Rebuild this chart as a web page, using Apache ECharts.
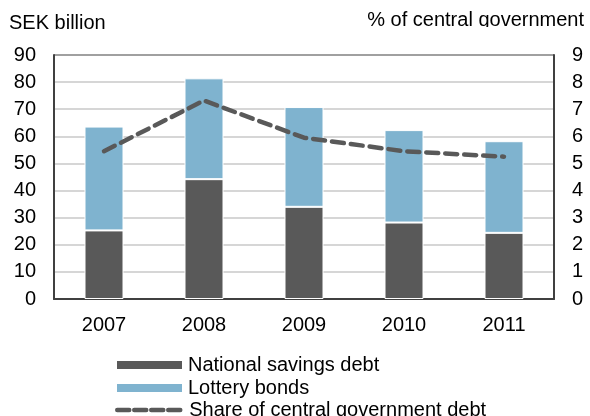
<!DOCTYPE html>
<html>
<head>
<meta charset="utf-8">
<script src="https://cdn.jsdelivr.net/npm/echarts@6/dist/echarts.min.js"></script>
<style>
  html, body { margin: 0; padding: 0; background: #fff; }
  #chart { width: 590px; height: 416px; }
</style>
</head>
<body>
<div id="chart"></div>
<script>
// Years on the category axis
const years = ['2007', '2008', '2009', '2010', '2011'];
// SEK billion, stacked
const nationalSavingsDebt = [25.3, 44.2, 34.0, 28.2, 24.4];
const lotteryBonds = [38.3, 37.2, 36.8, 34.1, 33.8];
// % of central government debt (right axis)
const shareOfDebt = [5.45, 7.32, 5.95, 5.45, 5.25];

const FONT = '"Liberation Sans", Arial, sans-serif';
const DARK = '#595959';
const BLUE = '#7fb3cf';
const FS = 20;

// light grid lines, with a darker line closing the top of the plot
const gridColors = ['#c8c8c8', '#c8c8c8', '#c8c8c8', '#c8c8c8', '#c8c8c8',
                    '#c8c8c8', '#c8c8c8', '#c8c8c8', '#c8c8c8', '#808080'];

function legendRow(name, top, extra) {
  return Object.assign({
    orient: 'vertical',
    left: 115,
    top: top,
    padding: 0,
    itemWidth: 67,
    itemHeight: 10,
    selectedMode: false,
    textStyle: { fontFamily: FONT, fontSize: FS, color: '#000' },
    data: [{ name: name, icon: 'rect' }]
  }, extra || {});
}

const chart = echarts.init(document.getElementById('chart'), null, { renderer: 'canvas' });

chart.setOption({
  animation: false,
  backgroundColor: '#ffffff',
  textStyle: { fontFamily: FONT },
  grid: { left: 54, right: 36, top: 55, bottom: 117, containLabel: false },
  legend: [
    legendRow('National savings debt', 355),
    legendRow('Lottery bonds', 378),
    legendRow('Share of central government debt', 400, {
      data: [{ name: 'Share of central government debt', itemStyle: { opacity: 0 } }],
      lineStyle: { width: 4.5, type: [12, 5], cap: 'round', color: DARK }
    })
  ],
  xAxis: {
    type: 'category',
    data: years,
    axisLine: { show: true, lineStyle: { color: '#404040', width: 2 } },
    axisTick: { show: false },
    axisLabel: { fontFamily: FONT, fontSize: FS, color: '#000', margin: 16 }
  },
  yAxis: [
    {
      type: 'value',
      min: 0, max: 90, interval: 10,
      axisLine: { show: true, lineStyle: { color: '#404040', width: 2 } },
      axisTick: { show: false },
      axisLabel: { fontFamily: FONT, fontSize: FS, color: '#000', margin: 18 },
      splitLine: { show: true, lineStyle: { color: gridColors, width: 1.5 } }
    },
    {
      type: 'value',
      min: 0, max: 9, interval: 1,
      position: 'right',
      axisLine: { show: true, lineStyle: { color: '#404040', width: 2 } },
      axisTick: { show: false },
      axisLabel: { fontFamily: FONT, fontSize: FS, color: '#000', margin: 18 },
      splitLine: { show: false }
    }
  ],
  series: [
    {
      name: 'National savings debt',
      type: 'bar',
      stack: 'debt',
      data: nationalSavingsDebt,
      barWidth: '39%',
      itemStyle: { color: DARK, borderColor: '#fff', borderWidth: 1 }
    },
    {
      name: 'Lottery bonds',
      type: 'bar',
      stack: 'debt',
      data: lotteryBonds,
      barWidth: '39%',
      itemStyle: { color: BLUE, borderColor: '#fff', borderWidth: 1 }
    },
    {
      name: 'Share of central government debt',
      type: 'line',
      yAxisIndex: 1,
      data: shareOfDebt,
      symbol: 'none',
      z: 5,
      lineStyle: { color: DARK, width: 4.5, type: [12, 7], cap: 'round' },
      itemStyle: { color: DARK }
    }
  ],
  graphic: [
    {
      type: 'text',
      left: 9,
      top: 13,
      style: { text: 'SEK billion', fontFamily: FONT, fontSize: FS, fill: '#000' }
    },
    {
      type: 'text',
      right: 6,
      top: 10,
      style: { text: '% of central government', fontFamily: FONT, fontSize: FS, fill: '#000' }
    },
    {
      // trims the bottom of the right-hand title line
      type: 'rect',
      shape: { x: 340, y: 27, width: 250, height: 12 },
      style: { fill: '#fff' },
      z: 100
    }
  ]
});
</script>
</body>
</html>
